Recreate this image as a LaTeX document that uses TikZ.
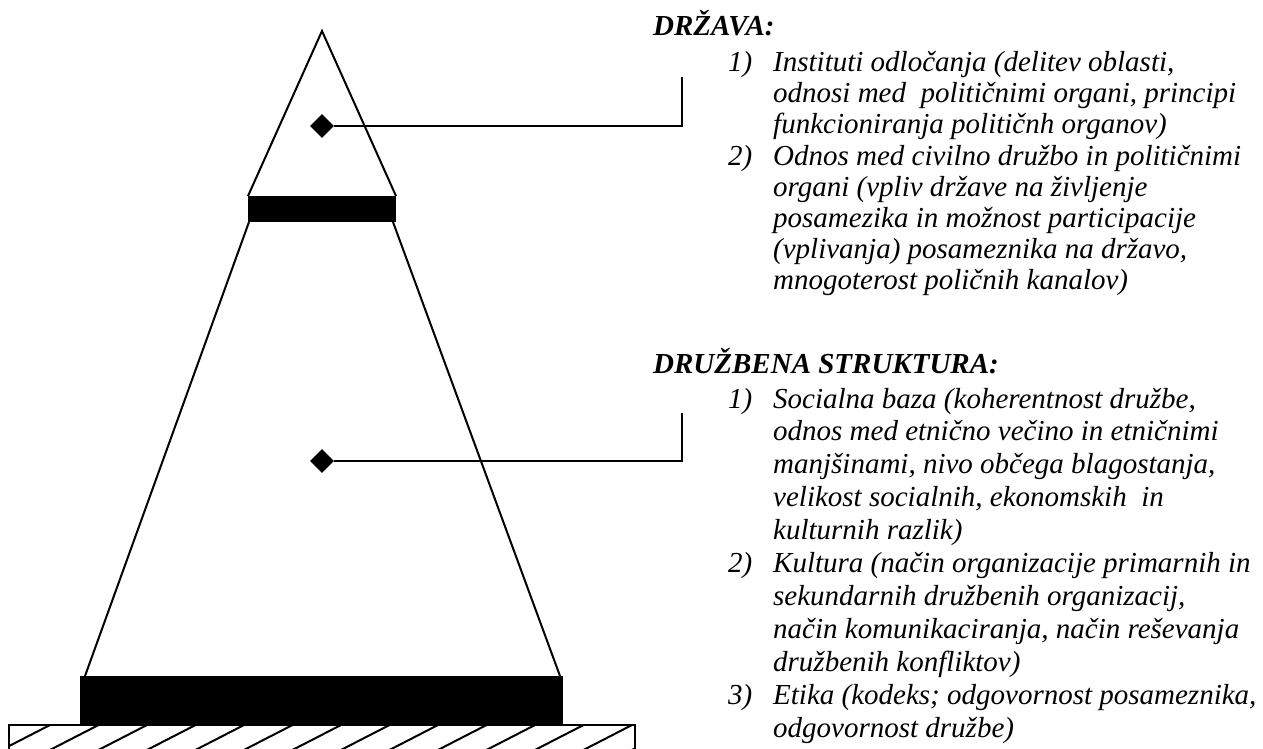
\documentclass[tikz,border=0pt]{standalone}
\usepackage{fontspec}
\setmainfont{Liberation Serif}
\usetikzlibrary{shapes.geometric}
\begin{document}
\begin{tikzpicture}[x=1pt,y=-1pt,
  outline/.style={line width=2pt, line join=miter},
  lead/.style={line width=2.6pt},
  marker/.style={diamond, fill=black, inner sep=0pt, minimum size=24pt},
  head/.style={anchor=base west, inner sep=0pt, font=\fontsize{29}{33}\selectfont\bfseries\itshape},
  txt/.style={anchor=base west, inner sep=0pt, font=\fontsize{29}{33}\selectfont\itshape},
]
\useasboundingbox (0,0) rectangle (1263,749);

% hatched ground
\begin{scope}
  \clip (9,725) rectangle (635,760);
  \foreach \k in {0,...,13} {
    \draw[line width=2pt] (50+48.5*\k,725) -- ++(-70,36);
  }
\end{scope}
\draw[outline] (9,760) -- (9,725) -- (635,725) -- (635,760);

% pyramid: lower trunk, bars and top triangle
\fill (80,676) rectangle (563,725);
\fill (248,196) rectangle (396,222);
\draw[outline] (248,196) -- (322,31) -- (396,196);
\draw[outline] (249,222) -- (85,676);
\draw[outline] (393,222) -- (560,676);

% markers and leaders
\node[marker] (d1) at (322,126) {};
\node[marker] (d2) at (322,461) {};
\coordinate (e1) at (682,77);
\coordinate (e2) at (682,413);
\draw[lead] (d1.east) -| (e1);
\draw[lead] (d2.east) -| (e2);

% state
\node[head] (h1) at (653,36) {DRŽAVA:};
\def\ya{72}\def\sa{31}
\node[txt] (n11) at (728,\ya) {1)};
\node[txt] (a1) at (773,\ya) {Instituti odločanja (delitev oblasti,};
\node[txt] (a2) at (773,\ya+\sa) {odnosi med\ \ političnimi organi, principi};
\node[txt] (a3) at (773,\ya+2*\sa) {funkcioniranja političnh organov)};
\node[txt] (n12) at (728,\ya+3*\sa) {2)};
\node[txt] (a4) at (773,\ya+3*\sa) {Odnos med civilno družbo in političnimi};
\node[txt] (a5) at (773,\ya+4*\sa) {organi (vpliv države na življenje};
\node[txt] (a6) at (773,\ya+5*\sa) {posamezika in možnost participacije};
\node[txt] (a7) at (773,\ya+6*\sa) {(vplivanja) posameznika na državo,};
\node[txt] (a8) at (773,\ya+7*\sa) {mnogoterost poličnih kanalov)};

% social structure
\node[head] (h2) at (653,373) {DRUŽBENA STRUKTURA:};
\def\yb{408}\def\sb{32.9}
\node[txt] (n21) at (728,\yb) {1)};
\node[txt] (b1) at (773,\yb) {Socialna baza (koherentnost družbe,};
\node[txt] (b2) at (773,\yb+\sb) {odnos med etnično večino in etničnimi};
\node[txt] (b3) at (773,\yb+2*\sb) {manjšinami, nivo občega blagostanja,};
\node[txt] (b4) at (773,\yb+3*\sb) {velikost socialnih, ekonomskih\ \ in};
\node[txt] (b5) at (773,\yb+4*\sb) {kulturnih razlik)};
\node[txt] (n22) at (728,\yb+5*\sb) {2)};
\node[txt] (b6) at (773,\yb+5*\sb) {Kultura (način organizacije primarnih in};
\node[txt] (b7) at (773,\yb+6*\sb) {sekundarnih družbenih organizacij,};
\node[txt] (b8) at (773,\yb+7*\sb) {način komunikaciranja, način reševanja};
\node[txt] (b9) at (773,\yb+8*\sb) {družbenih konfliktov)};
\node[txt] (n23) at (728,\yb+9*\sb) {3)};
\node[txt] (b10) at (773,\yb+9*\sb) {Etika (kodeks; odgovornost posameznika,};
\node[txt] (b11) at (773,\yb+10*\sb) {odgovornost družbe)};
\end{tikzpicture}
\end{document}
